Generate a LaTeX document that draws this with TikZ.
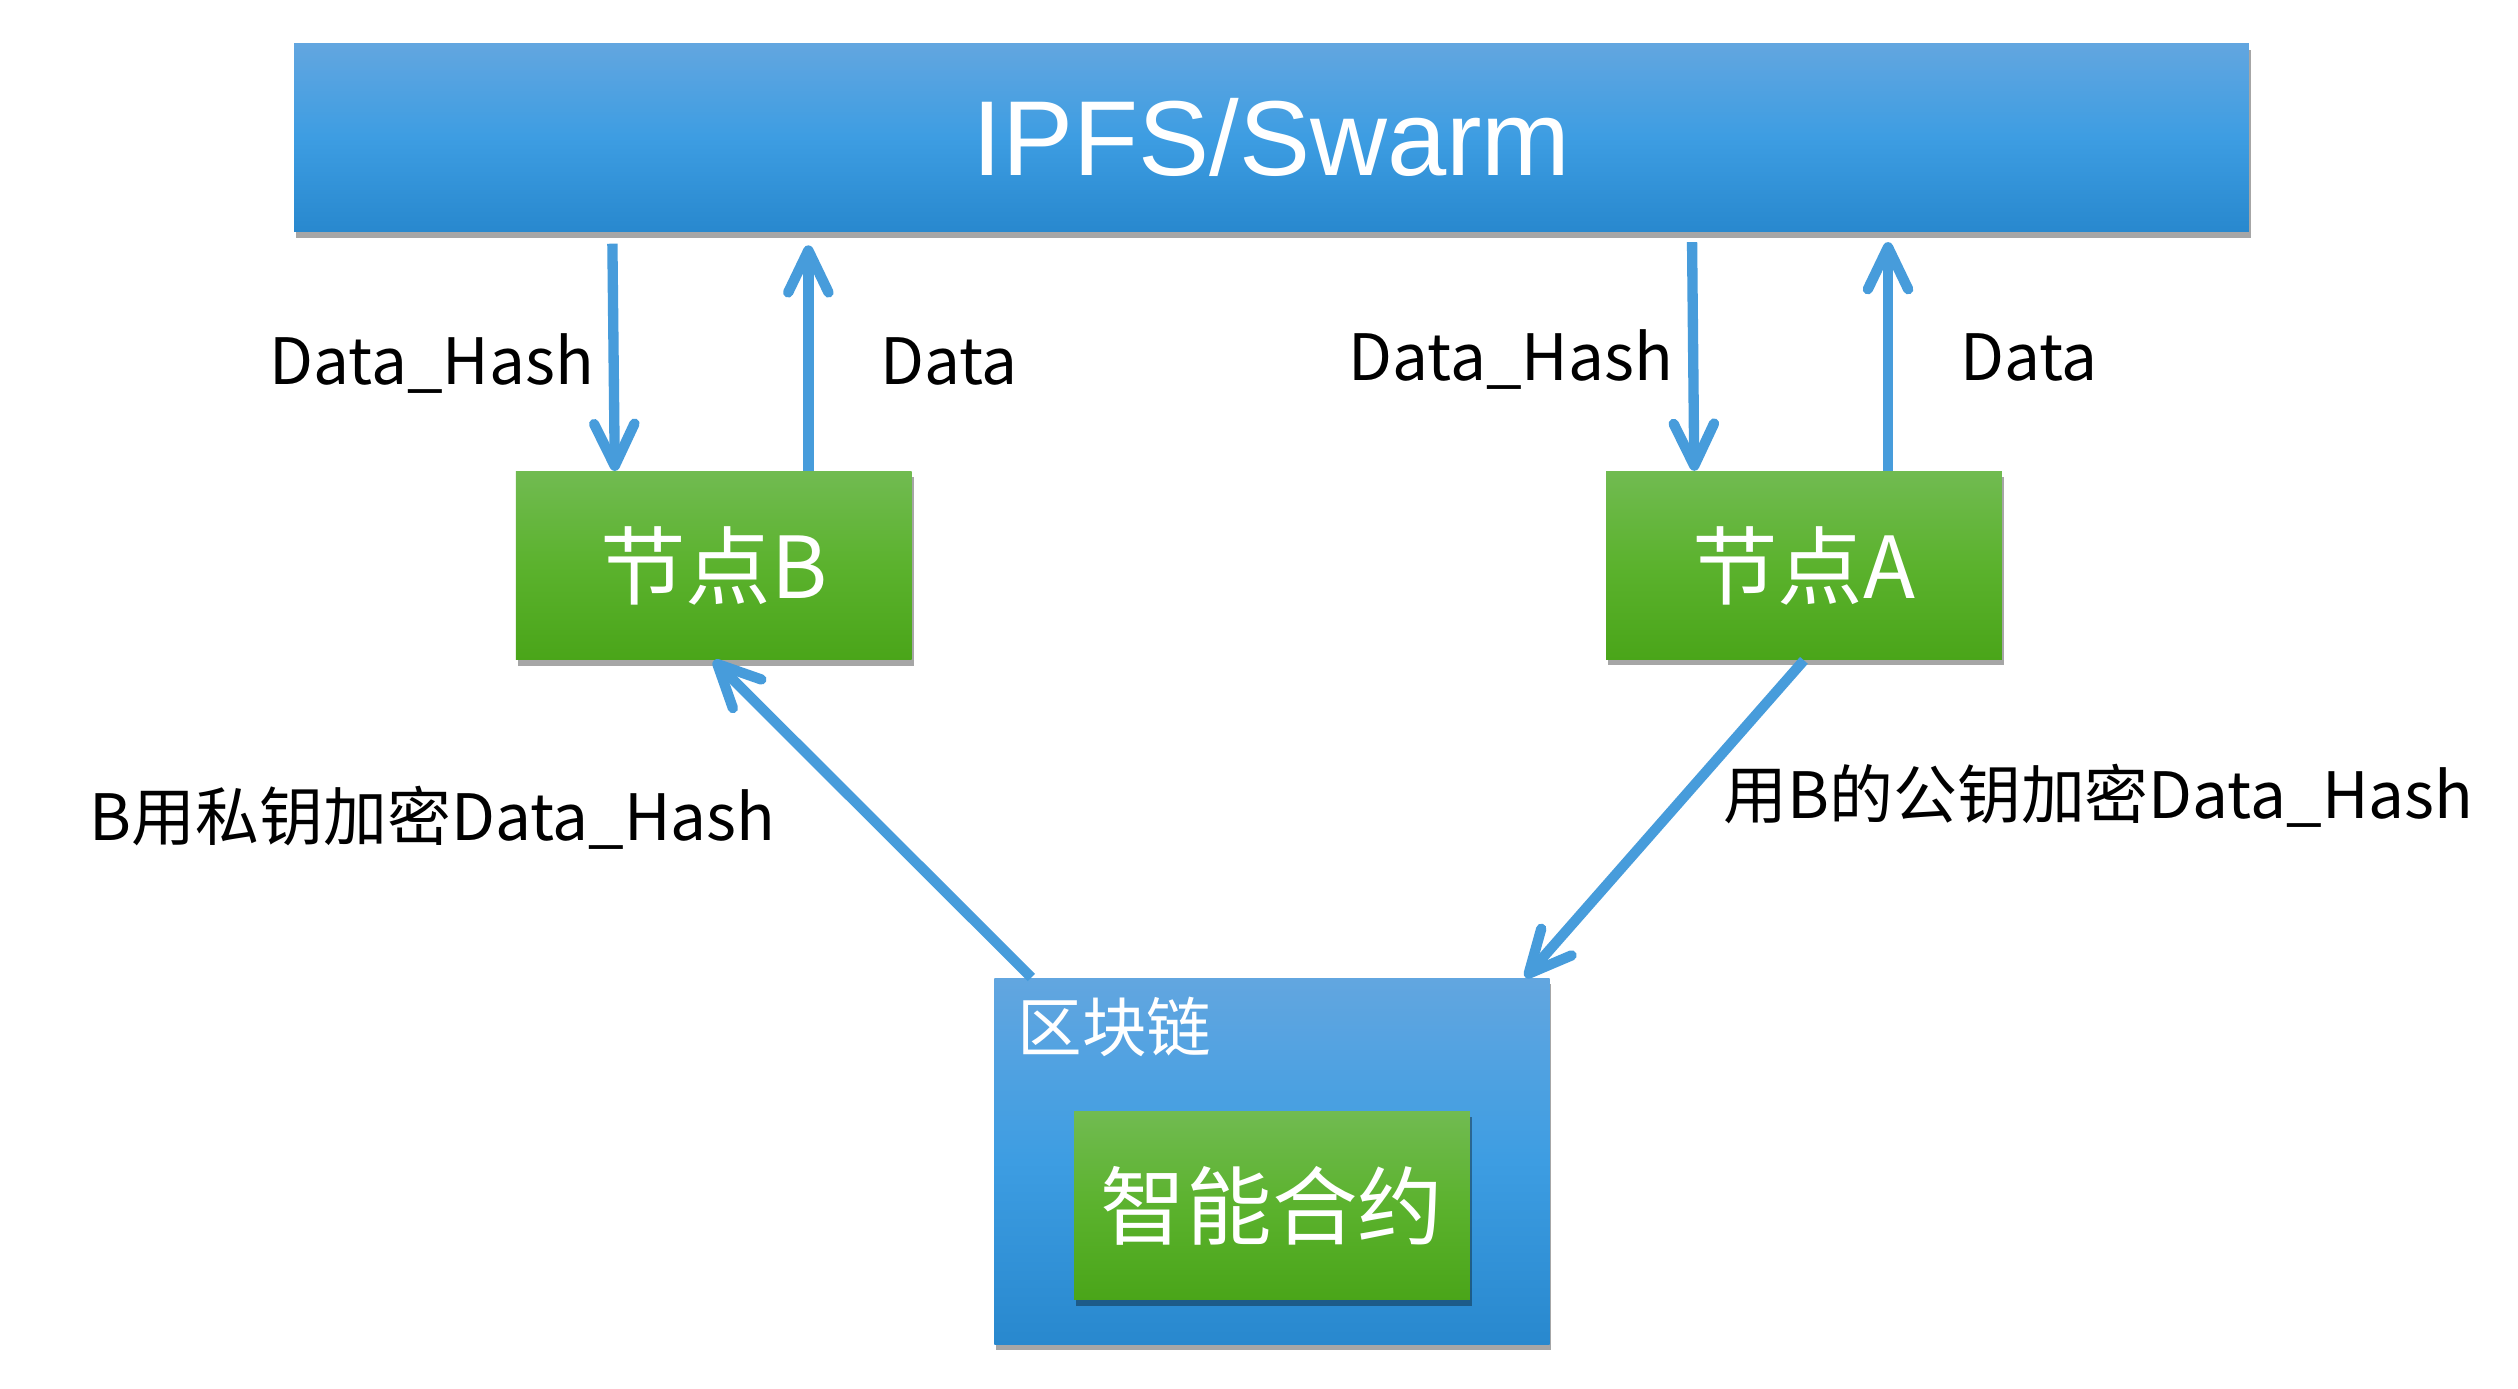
\documentclass[tikz,border=0pt]{standalone}
\usepackage{fontspec}
\setmainfont{Noto Sans CJK SC}
\newfontfamily\ipfsfont{Liberation Sans}
\usetikzlibrary{arrows.meta,shadows,calc}
\definecolor{arrowblue}{HTML}{479CDB}
\definecolor{blueT}{HTML}{62A6E0}
\definecolor{blueM}{HTML}{3D9DE2}
\definecolor{blueB}{HTML}{2888CE}
\definecolor{greenT}{HTML}{71BB51}
\definecolor{greenM}{HTML}{5BB22D}
\definecolor{greenB}{HTML}{4AA519}
\begin{document}
\begin{tikzpicture}[x=0.5pt,y=-0.5pt,
  shadowed/.style={drop shadow={shadow xshift=0.6pt,shadow yshift=-1.8pt,opacity=0.35,fill=black}},
  bluebox/.style={shadowed, inner sep=0pt, top color=blueT, bottom color=blueB, middle color=blueM},
  greenbox/.style={shadowed, inner sep=0pt, minimum width=122.6pt, minimum height=58.3pt,
    top color=greenT, bottom color=greenB, middle color=greenM, text=white,
    font=\fontsize{26.5pt}{30pt}\selectfont},
  arr/.style={draw=arrowblue, line width=3.2pt, -{Straight Barb[length=13pt,width=12.5pt,round]}},
  lbl/.style={anchor=base, font=\fontsize{19.8pt}{24pt}\selectfont, inner sep=0pt}
]
\useasboundingbox (0,0) rectangle (1560,860);
\fill[white] (0,0) rectangle (1560,860);

\node[bluebox, minimum width=605.55pt, minimum height=58.25pt, text=white,
  font=\ipfsfont\fontsize{33pt}{38pt}\selectfont] (ipfs) at (787.75,85.35) {IPFS/Swarm};
\node[greenbox] (nodeB) at (442.2,350.5) {节点B};
\node[greenbox] (nodeA) at (1117.6,350.4) {节点A};
\node[bluebox, minimum width=172pt, minimum height=113.5pt] (chain) at (788,719.5) {};
\node[greenbox] (smart) at (788.1,747) {智能合约};
\node[anchor=west, inner sep=0pt, text=white, font=\fontsize{20pt}{24pt}\selectfont] (chainlbl) at (630,636) {区块链};

\draw[arr] ($(ipfs.south -| 379.4,0)+(0,7)$) -- (nodeB.north -| 380.9,0);
\draw[arr] (nodeB.north -| 500.8,0) -- ($(ipfs.south -| 500.8,0)+(0,8)$);
\draw[arr] ($(ipfs.south -| 1048.3,0)+(0,6)$) -- (nodeA.north -| 1049.7,0);
\draw[arr] (nodeA.north -| 1169.7,0) -- ($(ipfs.south -| 1169.7,0)+(0,6)$);
\draw[arr] (chain.north -| 639,0) -- (nodeB.south);
\draw[arr] (nodeA.south) -- (chain.north -| 945,0);

\node[lbl] (l1) at (267.5,238) {Data\_Hash};
\node[lbl] (l2) at (588,238) {Data};
\node[lbl] (l3) at (936,235.6) {Data\_Hash};
\node[lbl] (l4) at (1257,235.6) {Data};
\node[lbl] (l5) at (268,521) {B用私钥加密Data\_Hash};
\node[lbl] (l6) at (1300,507) {用B的公钥加密Data\_Hash};
\end{tikzpicture}
\end{document}
